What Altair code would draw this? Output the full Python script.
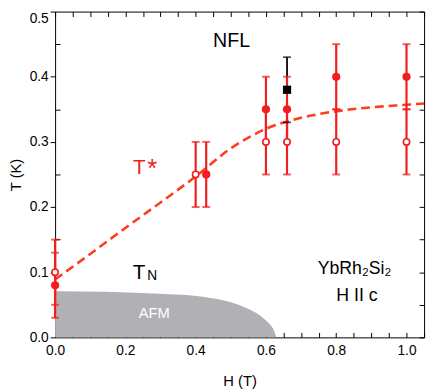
import altair as alt
import pandas as pd

FONT = "Liberation Sans"
RED = "#f21d1d"
DASH = "#ff3c1e"
GRAY = "#b1b0b5"

# ---- data ----
H_filled = [0.0, 0.43, 0.60, 0.66, 0.80, 1.00]
T_filled = [0.08, 0.25, 0.35, 0.35, 0.40, 0.40]
lo_filled = [0.03, 0.20, 0.30, 0.30, 0.35, 0.35]
hi_filled = [0.13, 0.30, 0.40, 0.40, 0.45, 0.45]

H_open = [0.0, 0.40, 0.60, 0.66, 0.80, 1.00]
T_open = [0.10, 0.25, 0.30, 0.30, 0.30, 0.30]
lo_open = [0.05, 0.20, 0.25, 0.25, 0.25, 0.25]
hi_open = [0.15, 0.30, 0.35, 0.35, 0.35, 0.35]

H_square = [0.66]
T_square = [0.38]
lo_square = [0.33]
hi_square = [0.43]

# T* crossover line (dashed)
H_curve = [0.0, 0.1, 0.2, 0.3, 0.4, 0.5, 0.6, 0.7, 0.8, 0.9, 1.0, 1.05]
T_curve = [0.089, 0.128, 0.168, 0.207, 0.247, 0.290, 0.320, 0.337, 0.347, 0.353, 0.357, 0.359]

# AFM phase boundary (gray region)
H_afm = [0.0, 0.14, 0.28, 0.373, 0.42, 0.466, 0.503, 0.541, 0.569, 0.592, 0.611, 0.623, 0.629]
T_afm = [0.0708, 0.0699, 0.0674, 0.0649, 0.0624, 0.0584, 0.0534, 0.0459, 0.0384, 0.0299, 0.020, 0.010, 0.0]

# axis ticks
X_TICKS = [0.0, 0.05, 0.1, 0.15, 0.2, 0.25, 0.3, 0.35, 0.4, 0.45, 0.5, 0.55,
           0.6, 0.65, 0.7, 0.75, 0.8, 0.85, 0.9, 0.95, 1.0, 1.05]
X_LABELS = [0.0, 0.2, 0.4, 0.6, 0.8, 1.0]
Y_MAJOR = [0.0, 0.1, 0.2, 0.3, 0.4, 0.5]
Y_MINOR = [0.05, 0.15, 0.25, 0.35, 0.45]
Y_ALL = [0.0, 0.05, 0.1, 0.15, 0.2, 0.25, 0.3, 0.35, 0.4, 0.45, 0.5]

# annotation texts and their positions (data coordinates)
texts = {
    "NFL": ("NFL", 0.502, 0.4457),
    "Tstar": ("T", 0.222, 0.251),
    "star": ("*", 0.262, 0.246),
    "T": ("T", 0.221, 0.0898),
    "N": ("N", 0.2625, 0.0873),
    "compound": ("YbRh₂Si₂", 0.852, 0.0973),
    "field": ("H II c", 0.859, 0.0554),
    "AFM": ("AFM", 0.282, 0.0299),
}

xs = alt.Scale(domain=[0, 1.05], nice=False, zero=False)
ys = alt.Scale(domain=[0, 0.5], nice=False, zero=True)

label_test = " || ".join(f"abs(datum.value - {v}) < 0.001" for v in X_LABELS)

ax_bottom = alt.Axis(orient="bottom", values=X_TICKS, labelExpr=f"({label_test}) ? format(datum.value, '.1f') : ''",
                     tickSize=5, offset=-5, domain=False, labelPadding=6, labelFlush=False,
                     labelOverlap=False, title="H (T)", titlePadding=17, grid=False)
ax_top = alt.Axis(orient="top", values=X_TICKS, tickSize=5, offset=-5, domain=False,
                  labels=False, title=None, grid=False)
ax_left = alt.Axis(orient="left", values=Y_MAJOR, format=".1f", tickSize=5, domain=False,
                   labelPadding=2, labelOverlap=False, labelFlush=False,
                   labelBaseline={"condition": {"test": "datum.value >= 0.5", "value": "top"}, "value": "middle"},
                   title="T (K)", titlePadding=6, grid=False)
ax_left_minor = alt.Axis(orient="left", values=Y_MINOR, tickSize=5, offset=-5, domain=False,
                         labels=False, title=None, grid=False)
ax_right = alt.Axis(orient="right", values=Y_ALL, tickSize=5, offset=-5, domain=False,
                    labels=False, title=None, grid=False)

afm = pd.DataFrame({"H": H_afm, "T": T_afm})
curve = pd.DataFrame({"H": H_curve, "T": T_curve})
filled = pd.DataFrame({"H": H_filled, "T": T_filled, "lo": lo_filled, "hi": hi_filled})
opened = pd.DataFrame({"H": H_open, "T": T_open, "lo": lo_open, "hi": hi_open})
square = pd.DataFrame({"H": H_square, "T": T_square, "lo": lo_square, "hi": hi_square})
red_bars = pd.concat([filled, opened], ignore_index=True)
red_caps = pd.DataFrame({"H": list(red_bars["H"]) * 2,
                         "T": list(red_bars["lo"]) + list(red_bars["hi"])})
black_caps = pd.DataFrame({"H": H_square * 2, "T": lo_square + hi_square})

area_layer = alt.Chart(afm).mark_area(color=GRAY, interpolate="monotone").encode(
    x=alt.X("H:Q", scale=xs, axis=ax_bottom),
    y=alt.Y("T:Q", scale=ys, axis=ax_left),
)

curve_layer = alt.Chart(curve).mark_line(color=DASH, strokeWidth=2.6, strokeDash=[9, 5],
                                         interpolate="monotone").encode(
    x=alt.X("H:Q", scale=xs, axis=ax_top),
    y=alt.Y("T:Q", scale=ys, axis=ax_right),
)

black_rule = alt.Chart(square).mark_rule(color="black", strokeWidth=1.8).encode(
    x=alt.X("H:Q", scale=xs, axis=None),
    y=alt.Y("lo:Q", scale=ys, axis=ax_left_minor),
    y2="hi:Q",
)

red_rule = alt.Chart(red_bars).mark_rule(color=RED, strokeWidth=2.2).encode(
    x=alt.X("H:Q", scale=xs, axis=None),
    y=alt.Y("lo:Q", scale=ys, axis=None),
    y2="hi:Q",
)

red_cap = alt.Chart(red_caps).mark_tick(color=RED, orient="horizontal", size=8, thickness=2).encode(
    x=alt.X("H:Q", scale=xs, axis=None),
    y=alt.Y("T:Q", scale=ys, axis=None),
)

black_cap = alt.Chart(black_caps).mark_tick(color="black", orient="horizontal", size=8, thickness=1.8).encode(
    x=alt.X("H:Q", scale=xs, axis=None),
    y=alt.Y("T:Q", scale=ys, axis=None),
)

open_pts = alt.Chart(opened).mark_point(shape="circle", filled=True, fill="white", stroke=RED,
                                        strokeWidth=1.6, size=42, opacity=1).encode(
    x=alt.X("H:Q", scale=xs, axis=None),
    y=alt.Y("T:Q", scale=ys, axis=None),
)

filled_pts = alt.Chart(filled).mark_point(shape="circle", filled=True, color=RED, size=70, opacity=1).encode(
    x=alt.X("H:Q", scale=xs, axis=None),
    y=alt.Y("T:Q", scale=ys, axis=None),
)

square_pts = alt.Chart(square).mark_point(shape="square", filled=True, color="black", size=70, opacity=1).encode(
    x=alt.X("H:Q", scale=xs, axis=None),
    y=alt.Y("T:Q", scale=ys, axis=None),
)


def text_layer(key, size, color, align):
    label, hx, ty = texts[key]
    df = pd.DataFrame({"H": [hx], "T": [ty], "label": [label]})
    return alt.Chart(df).mark_text(font=FONT, fontSize=size, color=color, align=align,
                                   baseline="alphabetic").encode(
        x=alt.X("H:Q", scale=xs, axis=None),
        y=alt.Y("T:Q", scale=ys, axis=None),
        text="label:N",
    )


chart = alt.layer(
    area_layer, curve_layer, black_rule, red_rule, red_cap, black_cap,
    open_pts, filled_pts, square_pts,
    text_layer("NFL", 20, "black", "center"),
    text_layer("Tstar", 21, RED, "left"),
    text_layer("star", 26, RED, "left"),
    text_layer("T", 21, "black", "left"),
    text_layer("N", 14, "black", "left"),
    text_layer("compound", 18, "black", "center"),
    text_layer("field", 18, "black", "center"),
    text_layer("AFM", 15, "white", "center"),
).properties(
    width=376, height=332,
    autosize=alt.AutoSizeParams(type="none"),
    padding={"left": 48, "top": 0, "right": 4, "bottom": 51},
).configure_view(
    stroke="black", strokeWidth=1
).configure_axis(
    labelFont=FONT, titleFont=FONT, labelFontSize=14, titleFontSize=15,
    titleFontWeight="normal", labelColor="black", titleColor="black",
    tickColor="black", tickWidth=1,
)

chart.save("out.html", embed_options={"renderer": "svg", "actions": False})
